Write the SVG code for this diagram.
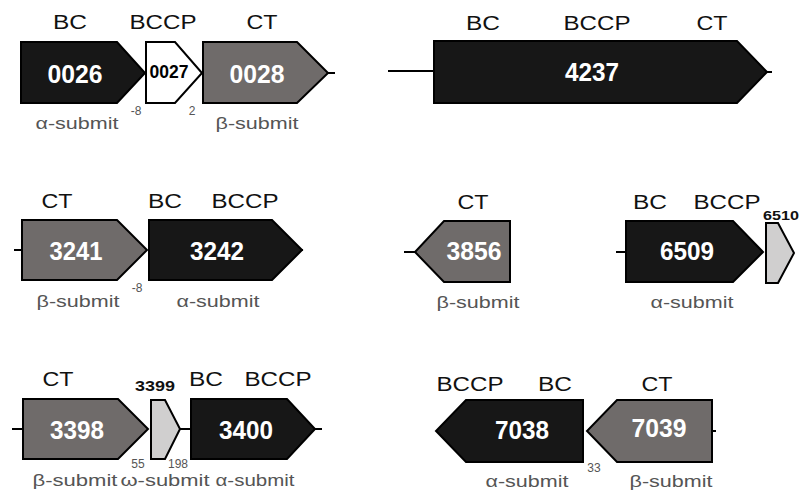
<svg xmlns="http://www.w3.org/2000/svg" width="801" height="494" viewBox="0 0 801 494">
<style>
.g{stroke:#000;stroke-width:2;stroke-linejoin:miter}
.dk{fill:#171717}.gr{fill:#6f6b6a}.lt{fill:#d0cfcf}.wh{fill:#fff}
.num{font-family:"Liberation Sans",Arial,sans-serif;font-weight:bold;font-size:26px;fill:#fff;text-anchor:middle}
.lab{font-family:"Liberation Sans",Arial,sans-serif;font-size:20.5px;fill:#111;text-anchor:middle}
.sub{font-family:"Liberation Sans","Noto Sans CJK SC",sans-serif;font-size:17px;fill:#555;text-anchor:middle}
.sm{font-family:"Liberation Sans",Arial,sans-serif;font-size:12px;fill:#555;text-anchor:middle}
.con{stroke:#000;stroke-width:2;fill:none}
</style>
<g id="connectors">
<line class="con" x1="328" y1="73" x2="335" y2="73"/>
<line class="con" x1="388" y1="71" x2="436" y2="71"/>
<line class="con" x1="757" y1="72" x2="772" y2="72"/>
<line class="con" x1="14" y1="250" x2="23" y2="250"/>
<line class="con" x1="288" y1="250" x2="303" y2="250"/>
<line class="con" x1="404" y1="252" x2="416" y2="252"/>
<line class="con" x1="616" y1="252" x2="627" y2="252"/>
<line class="con" x1="12" y1="429" x2="24" y2="429"/>
<line class="con" x1="180" y1="429" x2="192" y2="429"/>
<line class="con" x1="315" y1="429" x2="322" y2="429"/>
<line class="con" x1="712" y1="431" x2="716" y2="431"/>
</g>
<g id="n0026"><polygon class="g dk" points="21,42 117,42 145,73 117,103 21,103"/><text class="num" x="75" y="83" textLength="55" lengthAdjust="spacingAndGlyphs">0026</text></g>
<g id="n0027"><polygon class="g wh" points="146,42 175,42 202,73 175,103 146,103"/><text class="num" x="169" y="78" style="fill:#000;font-size:18px" textLength="39" lengthAdjust="spacingAndGlyphs">0027</text></g>
<g id="n0028"><polygon class="g gr" points="203,42 297,42 328,73 297,103 203,103"/><text class="num" x="257" y="83" textLength="55" lengthAdjust="spacingAndGlyphs">0028</text></g>
<g id="n4237"><polygon class="g dk" points="434,41 737,41 767,72 737,103 434,103"/><text class="num" x="592" y="81" textLength="54" lengthAdjust="spacingAndGlyphs">4237</text></g>
<g id="n3241"><polygon class="g gr" points="22,220 117,220 147,250 117,280 22,280"/><text class="num" x="76" y="260" textLength="53" lengthAdjust="spacingAndGlyphs">3241</text></g>
<g id="n3242"><polygon class="g dk" points="149,220 272,220 302,250 272,280 149,280"/><text class="num" x="217" y="260" textLength="54" lengthAdjust="spacingAndGlyphs">3242</text></g>
<g id="n3856"><polygon class="g gr" points="510,221 444,221 415,252 444,282 510,282"/><text class="num" x="474" y="260" textLength="55" lengthAdjust="spacingAndGlyphs">3856</text></g>
<g id="n6509"><polygon class="g dk" points="626,221 733,221 763,252 733,282 626,282"/><text class="num" x="687" y="260" textLength="54" lengthAdjust="spacingAndGlyphs">6509</text></g>
<g id="n6510"><polygon class="g lt" points="766,223 778,223 794,253 778,283 766,283"/><text class="num" x="781" y="220" style="fill:#111;font-size:13px" textLength="36" lengthAdjust="spacingAndGlyphs">6510</text></g>
<g id="n3398"><polygon class="g gr" points="23,399 118,399 148,429 118,459 23,459"/><text class="num" x="77" y="439" textLength="54" lengthAdjust="spacingAndGlyphs">3398</text></g>
<g id="n3399"><polygon class="g lt" points="151,400 165,400 180,429 165,459 151,459"/><text class="num" x="155" y="391" style="fill:#111;font-size:15px" textLength="40" lengthAdjust="spacingAndGlyphs">3399</text></g>
<g id="n3400"><polygon class="g dk" points="191,399 287,399 315,429 287,459 191,459"/><text class="num" x="246" y="439" textLength="54" lengthAdjust="spacingAndGlyphs">3400</text></g>
<g id="n7038"><polygon class="g dk" points="583,400 466,400 436,431 466,462 583,462"/><text class="num" x="522" y="439" textLength="54" lengthAdjust="spacingAndGlyphs">7038</text></g>
<g id="n7039"><polygon class="g gr" points="712,400 617,400 587,431 617,462 712,462"/><text class="num" x="659" y="437" textLength="55" lengthAdjust="spacingAndGlyphs">7039</text></g>
<g id="labels">
<text class="lab" x="70" y="29" textLength="34" lengthAdjust="spacingAndGlyphs">BC</text>
<text class="lab" x="163" y="29" textLength="67" lengthAdjust="spacingAndGlyphs">BCCP</text>
<text class="lab" x="262" y="29" textLength="31" lengthAdjust="spacingAndGlyphs">CT</text>
<text class="lab" x="483" y="30" textLength="34" lengthAdjust="spacingAndGlyphs">BC</text>
<text class="lab" x="597" y="30" textLength="67" lengthAdjust="spacingAndGlyphs">BCCP</text>
<text class="lab" x="712" y="30" textLength="31" lengthAdjust="spacingAndGlyphs">CT</text>
<text class="lab" x="57" y="208" textLength="31" lengthAdjust="spacingAndGlyphs">CT</text>
<text class="lab" x="165" y="208" textLength="34" lengthAdjust="spacingAndGlyphs">BC</text>
<text class="lab" x="245" y="208" textLength="67" lengthAdjust="spacingAndGlyphs">BCCP</text>
<text class="lab" x="473" y="209" textLength="31" lengthAdjust="spacingAndGlyphs">CT</text>
<text class="lab" x="650" y="209" textLength="34" lengthAdjust="spacingAndGlyphs">BC</text>
<text class="lab" x="727" y="209" textLength="67" lengthAdjust="spacingAndGlyphs">BCCP</text>
<text class="lab" x="58" y="386" textLength="31" lengthAdjust="spacingAndGlyphs">CT</text>
<text class="lab" x="206" y="386" textLength="34" lengthAdjust="spacingAndGlyphs">BC</text>
<text class="lab" x="278" y="386" textLength="67" lengthAdjust="spacingAndGlyphs">BCCP</text>
<text class="lab" x="470" y="391" textLength="67" lengthAdjust="spacingAndGlyphs">BCCP</text>
<text class="lab" x="555" y="391" textLength="34" lengthAdjust="spacingAndGlyphs">BC</text>
<text class="lab" x="657" y="391" textLength="31" lengthAdjust="spacingAndGlyphs">CT</text>
<text class="sub" x="77" y="129" textLength="83" lengthAdjust="spacingAndGlyphs">α-submit</text>
<text class="sub" x="257" y="129" textLength="83" lengthAdjust="spacingAndGlyphs">β-submit</text>
<text class="sub" x="78" y="307" textLength="83" lengthAdjust="spacingAndGlyphs">β-submit</text>
<text class="sub" x="218" y="307" textLength="83" lengthAdjust="spacingAndGlyphs">α-submit</text>
<text class="sub" x="478" y="308" textLength="83" lengthAdjust="spacingAndGlyphs">β-submit</text>
<text class="sub" x="692" y="308" textLength="83" lengthAdjust="spacingAndGlyphs">α-submit</text>
<text class="sub" x="75" y="486" textLength="85" lengthAdjust="spacingAndGlyphs">β-submit</text>
<text class="sub" x="165" y="486" textLength="89" lengthAdjust="spacingAndGlyphs">ω-submit</text>
<text class="sub" x="255" y="486" textLength="79" lengthAdjust="spacingAndGlyphs">α-submit</text>
<text class="sub" x="527" y="487" textLength="83" lengthAdjust="spacingAndGlyphs">α-submit</text>
<text class="sub" x="671" y="487" textLength="83" lengthAdjust="spacingAndGlyphs">β-submit</text>
<text class="sm" x="136" y="115">-8</text>
<text class="sm" x="192" y="115">2</text>
<text class="sm" x="137" y="292">-8</text>
<text class="sm" x="138" y="468">55</text>
<text class="sm" x="178" y="468">198</text>
<text class="sm" x="594" y="472">33</text>
</g>
</svg>
